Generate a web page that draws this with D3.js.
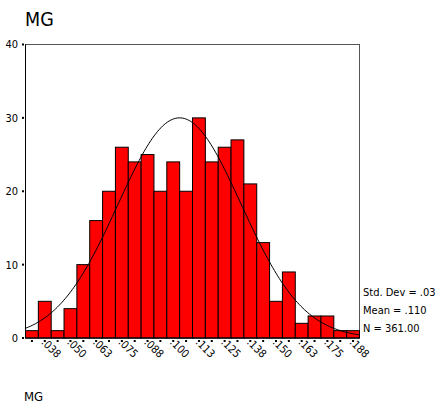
<!DOCTYPE html>
<html lang="en">
<head>
<meta charset="UTF-8">
<title>MG</title>
<script src="https://cdn.jsdelivr.net/npm/d3@7"></script>
<style>
    body { margin: 0; background: #ffffff; }
    svg { display: block; font-family: "DejaVu Sans Condensed", "DejaVu Sans", sans-serif; }
</style>
</head>
<body>
<div id="chart"></div>
<script>
    // histogram bins (counts), bin width .00625
    const counts = [1, 5, 1, 4, 10, 16, 20, 26, 24, 25, 20, 24, 20, 30, 24, 26, 27, 21, 13, 5, 9, 2, 3, 3, 1, 1];
    const binStart = 0.028125;
    const binWidth = 0.00625;
    const xTickLabels = [".038", ".050", ".063", ".075", ".088", ".100", ".113", ".125", ".138", ".150", ".163", ".175", ".188"];
    const yTicks = [0, 10, 20, 30, 40];
    const statsText = ["Std. Dev = .03", "Mean = .110", "N = 361.00"];
    // normal curve as drawn (its peak sits a little left of the stated mean)
    const curveCenter = 0.1031;
    const curveSd = 0.030;
    const curveN = 361;

    const width = 438, height = 406;
    const margin = { left: 25.5, right: 78.5, top: 44.5, bottom: 68 };

    const svg = d3.select("#chart").append("svg")
        .attr("width", width)
        .attr("height", height);

    const x = d3.scaleLinear()
        .domain([binStart, binStart + binWidth * counts.length])
        .range([margin.left, width - margin.right]);
    const y = d3.scaleLinear()
        .domain([0, 40])
        .range([height - margin.bottom, margin.top]);

    // title
    svg.append("text")
        .attr("x", 25).attr("y", 26)
        .style("font-size", "19.5px")
        .text("MG");

    // frame
    svg.append("rect")
        .attr("x", x.range()[0]).attr("y", y(40))
        .attr("width", x.range()[1] - x.range()[0])
        .attr("height", y(0) - y(40))
        .attr("fill", "none")
        .attr("stroke", "#555");

    // bars
    svg.append("g")
        .selectAll("rect")
        .data(counts)
        .join("rect")
        .attr("x", (d, i) => x(binStart + i * binWidth))
        .attr("y", d => y(d))
        .attr("width", x(binStart + binWidth) - x(binStart))
        .attr("height", d => y(0) - y(d))
        .attr("fill", "#ff0000")
        .attr("stroke", "#000")
        .attr("stroke-width", 1);

    // normal curve
    const curvePts = d3.range(0, 201).map(k => {
        const v = x.domain()[0] + (x.domain()[1] - x.domain()[0]) * k / 200;
        const z = (v - curveCenter) / curveSd;
        return [v, curveN * binWidth / (curveSd * Math.sqrt(2 * Math.PI)) * Math.exp(-z * z / 2)];
    });
    svg.append("path")
        .datum(curvePts)
        .attr("fill", "none")
        .attr("stroke", "#000")
        .attr("stroke-width", 1)
        .attr("d", d3.line().x(d => x(d[0])).y(d => y(d[1])));

    // axes lines
    svg.append("line")
        .attr("x1", x.range()[0]).attr("x2", x.range()[0])
        .attr("y1", y(40)).attr("y2", y(0))
        .attr("stroke", "#000");
    svg.append("line")
        .attr("x1", x.range()[0]).attr("x2", x.range()[1])
        .attr("y1", y(0)).attr("y2", y(0))
        .attr("stroke", "#000");

    // y ticks
    const yAxis = svg.append("g");
    yAxis.selectAll("rect")
        .data(yTicks)
        .join("rect")
        .attr("x", 22).attr("y", d => y(d) - 1)
        .attr("width", 2).attr("height", 2)
        .attr("fill", "#000");
    yAxis.selectAll("text")
        .data(yTicks)
        .join("text")
        .attr("x", 18).attr("y", d => y(d))
        .attr("dy", "0.36em")
        .attr("text-anchor", "end")
        .style("font-size", "11px")
        .text(d => d);

    // x ticks at each bin centre, labels on every other one
    const xAxis = svg.append("g");
    xAxis.selectAll("rect")
        .data(counts)
        .join("rect")
        .attr("x", (d, i) => x(binStart + (i + 0.5) * binWidth) - 1)
        .attr("y", y(0) + 2)
        .attr("width", 2).attr("height", 2)
        .attr("fill", "#000");
    xAxis.selectAll("text")
        .data(xTickLabels)
        .join("text")
        .attr("transform", (d, i) => `translate(${x(binStart + (2 * i + 1.5) * binWidth) - 4},${y(0) + 5}) rotate(45)`)
        .style("font-size", "11px")
        .text(d => d);

    // stats
    svg.append("g")
        .selectAll("text")
        .data(statsText)
        .join("text")
        .attr("x", 363).attr("y", (d, i) => 296 + i * 18)
        .style("font-size", "11px")
        .text(d => d);

    // axis title
    svg.append("text")
        .attr("x", 24).attr("y", 400.5)
        .style("font-size", "13px")
        .text("MG");
</script>
</body>
</html>
